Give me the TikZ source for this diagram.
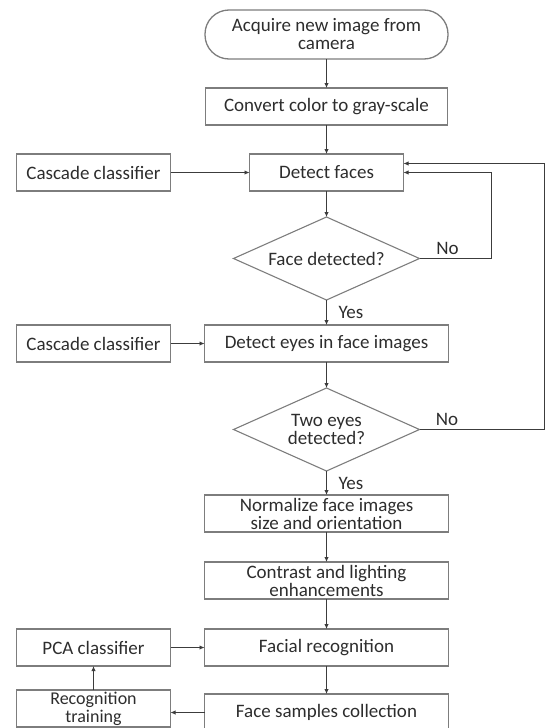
\documentclass[tikz,border=0pt]{standalone}
\usepackage{fontspec}
\setmainfont{Carlito}
\usetikzlibrary{positioning, arrows.meta, shapes.geometric}
\definecolor{fcline}{RGB}{60,60,60}
\definecolor{fcbox}{RGB}{125,125,125}
\definecolor{fctext}{RGB}{45,45,45}

\begin{document}
\begin{tikzpicture}[x=1pt, y=1pt, node distance=30pt,
    font=\fontsize{19}{18}\selectfont,
    every node/.style={align=center, inner sep=2pt, outer sep=0pt, text=fctext},
    procbox/.style={draw=fcbox, line width=1.3pt, minimum width=244pt, minimum height=37pt,
                    inner ysep=0.5pt},
    sidebox/.style={draw=fcbox, line width=1.3pt, minimum width=154pt, minimum height=37pt,
                    inner ysep=0.5pt},
    termbox/.style={draw=fcbox, line width=1.3pt, minimum width=243pt, minimum height=49pt,
                    rounded corners=24pt},
    decision/.style={diamond, draw=fcbox, line width=1.1pt, aspect=2.2, inner sep=0pt,
                     minimum width=186pt, minimum height=83pt},
    flow/.style={-{Latex[length=5pt, width=4.5pt]}, draw=fcline, line width=0.9pt}]
  \useasboundingbox (0,0) rectangle (545,-728);

  \node[termbox] (acq) at (326.5,-34.5) {Acquire new image from\\camera};
  \node[procbox, minimum width=242pt, below=29pt of acq] (gray) {Convert color to gray-scale};
  \node[procbox, minimum width=154pt, below=29pt of gray] (faces) {Detect faces};
  \node[decision, below=26pt of faces] (facedec) {Face detected?};
  \node[procbox, below=25pt of facedec] (eyes) {Detect eyes in face images};
  \node[decision, below=26pt of eyes] (eyedec) {Two eyes\\detected?};
  \node[procbox, below=24pt of eyedec] (norm) {Normalize face images\\size and orientation};
  \node[procbox, below=30pt of norm] (light) {Contrast and lighting\\enhancements};
  \node[procbox, below=30pt of light] (recog) {Facial recognition};
  \node[procbox, below=28pt of recog] (samples) {Face samples collection};

  \node[sidebox, left=34pt of eyes] (casc2) {Cascade classifier};
  \node[sidebox] (casc1) at (casc2 |- faces) {Cascade classifier};
  \node[sidebox, left=34pt of recog] (pca) {PCA classifier};
  \node[sidebox, left=34pt of samples, yshift=4pt, font=\fontsize{18}{18}\selectfont] (train)
        {Recognition\\training};

  % main flow
  \draw[flow] (acq) -- (gray);
  \draw[flow] (gray) -- (faces);
  \draw[flow] (faces) -- (facedec);
  \draw[flow] (facedec) -- node[right=10pt] {Yes} (eyes);
  \draw[flow] (eyes) -- (eyedec);
  \draw[flow] (eyedec) -- node[right=10pt] {Yes} (norm);
  \draw[flow] (norm) -- (light);
  \draw[flow] (light) -- (recog);
  \draw[flow] (recog) -- (samples);

  % side inputs
  \draw[flow] (casc1) -- (faces);
  \draw[flow] (casc2) -- (eyes);
  \draw[flow] (pca) -- (recog);
  \draw[flow] (samples.west) -- (samples.west -| train.east);
  \draw[flow] (train) -- (pca);

  % loops back
  \draw[flow] (facedec.east) -- node[above=2pt, pos=0.39] {No} ++(72,0) |- (faces.east);
  \draw[flow] (eyedec.east) -- node[above=2pt, pos=0.22] {No} ++(125,0) |- ([yshift=9pt]faces.east);
\end{tikzpicture}
\end{document}
